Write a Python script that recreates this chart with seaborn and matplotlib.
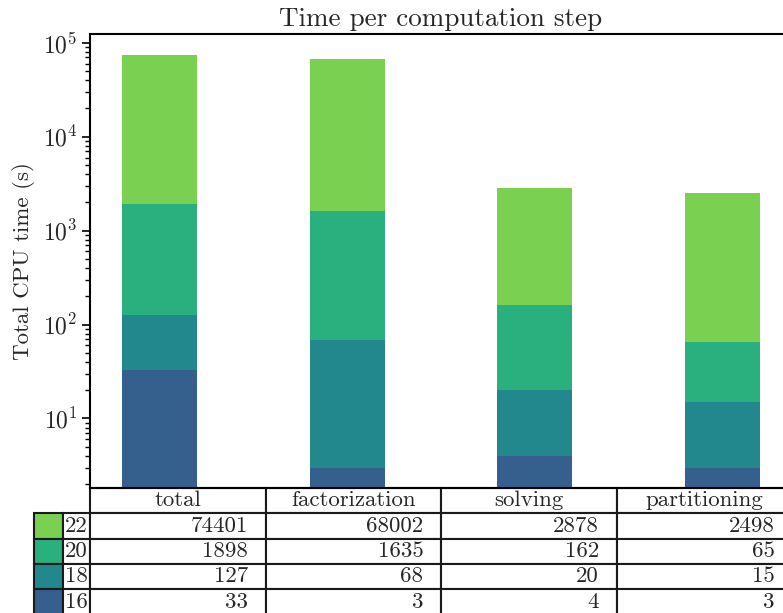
import numpy as np
import matplotlib
matplotlib.use("Agg")
import matplotlib.pyplot as plt
import seaborn as sns

# CPU time (s) per computation step, for each problem size
steps = ["total", "factorization", "solving", "partitioning"]
sizes = ["22", "20", "18", "16"]
time_22 = [74401, 68002, 2878, 2498]
time_20 = [1898, 1635, 162, 65]
time_18 = [127, 68, 20, 15]
time_16 = [33, 3, 4, 3]
series = [time_22, time_20, time_18, time_16]

sns.set_theme(style="ticks")
plt.rcParams["font.family"] = ["cmr10", "DejaVu Serif"]
plt.rcParams["mathtext.fontset"] = "cm"
plt.rcParams["axes.formatter.use_mathtext"] = True
plt.rcParams["axes.unicode_minus"] = False

colors = [matplotlib.colormaps["viridis"](v) for v in np.linspace(0.8, 0.3, 4)]

fig = plt.figure(figsize=(7.83, 6.13), dpi=100)
ax = fig.add_axes([90 / 783, 1 - 488 / 613, 702 / 783, 454 / 613])
ax.set_yscale("log")

# overlapping bars: largest size first, smaller ones drawn in front
for vals, col in zip(series, colors):
    sns.barplot(x=steps, y=vals, color=col, saturation=1, width=0.4,
                linewidth=0, ax=ax, errorbar=None)

ax.set_xlim(-0.37, 3.37)
ax.set_ylim(1.82, 1.24e5)
ax.set_xticks([])
ax.set_xlabel("")
ax.set_ylabel("Total CPU time (s)", fontsize=16.5, labelpad=6)
ax.set_title("Time per computation step", fontsize=19.5, pad=6)
for s in ax.spines.values():
    s.set_linewidth(1.5)
    s.set_color("black")
ax.tick_params(axis="y", which="major", direction="out", length=6, width=1.2,
               labelsize=17, color="black", pad=3)
ax.tick_params(axis="y", which="minor", direction="out", length=3.5, width=1.0,
               color="black")

cell_text = [[str(v) for v in vals] for vals in series]
table = ax.table(cellText=cell_text, rowLabels=sizes, colLabels=steps,
                 loc="bottom", cellLoc="right")
table.auto_set_font_size(False)
table.set_fontsize(16.5)

row_h = 25.3 / 454
col_w = 0.25
lab_w = 28 / 702
swatch_w = 29 / 702
for (r, c), cell in table.get_celld().items():
    cell.set_height(row_h)
    cell.set_linewidth(1.5)
    cell.set_width(col_w if c >= 0 else lab_w)
for i, col in enumerate(colors):
    table.add_cell(i + 1, -2, width=swatch_w, height=row_h, text="",
                   facecolor=col)
    table[i + 1, -2].set_linewidth(1.5)

fig.savefig("out.png", dpi=100)
